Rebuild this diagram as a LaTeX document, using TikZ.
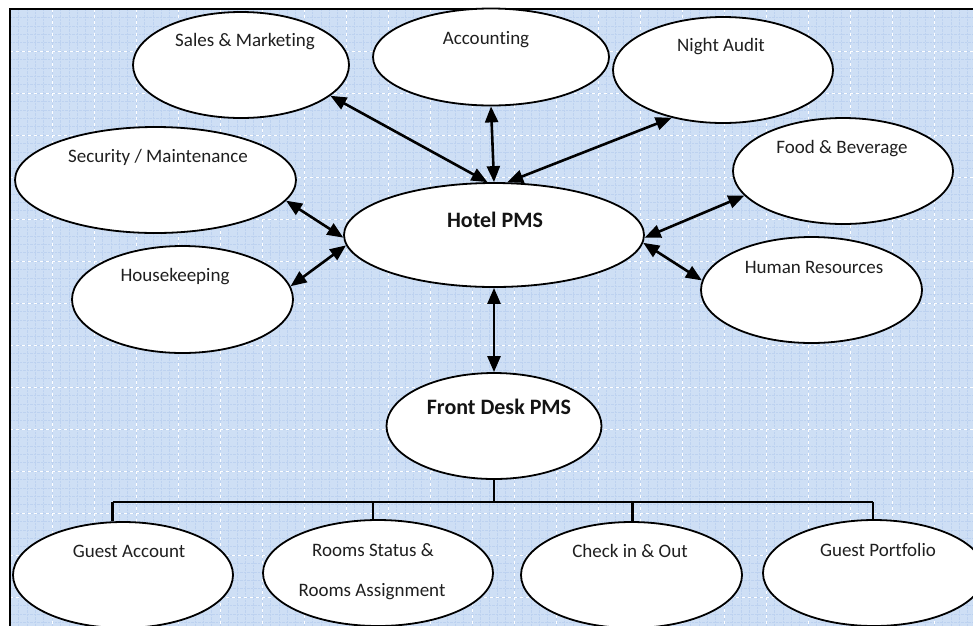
\documentclass[tikz,border=0pt]{standalone}
\usepackage{fontspec}
\setmainfont{Carlito}[Ligatures=NoCommon]
\usetikzlibrary{arrows.meta,shapes.geometric}
\definecolor{bgblue}{RGB}{206,223,245}
\definecolor{gridfine}{RGB}{189,210,240}
\begin{document}
\begin{tikzpicture}[x=1pt,y=-1pt,
  ell/.style={draw, line width=1.8pt, fill=white, ellipse, inner sep=0pt},
  lbl/.style={font=\fontsize{19}{23}\selectfont, text=black!88, inner sep=0pt},
  blbl/.style={font=\fontsize{22}{26}\selectfont\bfseries, text=black!92, inner sep=0pt},
  conn/.style={line width=2.6pt, {Triangle[length=16pt,width=13pt]}-{Triangle[length=16pt,width=13pt]}},
  tree/.style={line width=2.4pt}]
\useasboundingbox (0,0) rectangle (973,625);
\clip (0,0) rectangle (973,625);
% background
\fill[bgblue] (10,9) rectangle (980,630);
\foreach \x in {10,18.4,...,980} \draw[gridfine, line width=0.4pt, densely dotted] (\x,9) -- (\x,630);
\foreach \y in {9,17.4,...,630} \draw[gridfine, line width=0.4pt, densely dotted] (10,\y) -- (980,\y);
\foreach \x in {10,52,...,980} \draw[white, dashed, line width=0.8pt] (\x,9) -- (\x,630);
\foreach \y in {9,51,...,630} \draw[white, dashed, line width=0.8pt] (10,\y) -- (980,\y);
\draw[line width=2.6pt] (10,630) -- (10,9) -- (980,9);
% ellipses
\node[ell, minimum width=216, minimum height=106] (sales) at (241,65) {};
\node[ell, minimum width=236, minimum height=97] (acc) at (491,57) {};
\node[ell, minimum width=220, minimum height=106] (night) at (723,70) {};
\node[ell, minimum width=281, minimum height=106] (sec) at (155.5,180) {};
\node[ell, minimum width=220, minimum height=106] (fb) at (843,171) {};
\node[ell, minimum width=300, minimum height=104] (hotel) at (494,235) {};
\node[ell, minimum width=221, minimum height=107] (hk) at (182.5,299.5) {};
\node[ell, minimum width=221, minimum height=106] (hr) at (811.5,290) {};
\node[ell, minimum width=215, minimum height=106] (fd) at (494,426) {};
\node[ell, minimum width=220, minimum height=106] (ga) at (123,575) {};
\node[ell, minimum width=230, minimum height=106] (rs) at (378,573) {};
\node[ell, minimum width=221, minimum height=106] (ci) at (631.5,575) {};
\node[ell, minimum width=222, minimum height=106] (gp) at (874,573) {};
% labels
\node[lbl] (salesT) at (245,42) {Sales \& Marketing};
\node[lbl] (accT) at (486,40) {Accounting};
\node[lbl] (nightT) at (721,47) {Night Audit};
\node[lbl] (secT) at (158,157) {Security / Maintenance};
\node[lbl] (fbT) at (842,149) {Food \& Beverage};
\node[blbl] (hotelT) at (495,220) {Hotel PMS};
\node[lbl] (hkT) at (175,277) {Housekeeping};
\node[lbl] (hrT) at (814,267) {Human Resources};
\node[blbl] (fdT) at (499,407) {Front Desk PMS};
\node[lbl] (gaT) at (129,551) {Guest Account};
\node[lbl] (rsT1) at (373,550) {Rooms Status \&};
\node[lbl] (rsT2) at (372,592) {Rooms Assignment};
\node[lbl] (ciT) at (630,551) {Check in \& Out};
\node[lbl] (gpT) at (878,550) {Guest Portfolio};
% connectors
\draw[conn] (hotel.97) -- (sales.-19);
\draw[conn] (hotel.north) -- (acc.south);
\draw[conn] (hotel.76) -- (night.-137);
\draw[conn] (hotel.181) -- (sec.-9);
\draw[conn] (hotel.184) -- (hk.7);
\draw[conn] (hotel.-1) -- (fb.-166);
\draw[conn] (hotel.-3) -- (hr.175);
\draw[conn] (hotel.south) -- (fd.north);
% tree
\draw[tree] (fd.south) -- ++(0,22) coordinate (j);
\draw[tree] (ga.101 |- j) -- (gp.91 |- j);
\draw[tree] (ga.101 |- j) -- (ga.101);
\draw[tree] (rs.95 |- j) -- (rs.95);
\draw[tree] (ci.89 |- j) -- (ci.89);
\draw[tree] (gp.91 |- j) -- (gp.91);
\end{tikzpicture}
\end{document}
